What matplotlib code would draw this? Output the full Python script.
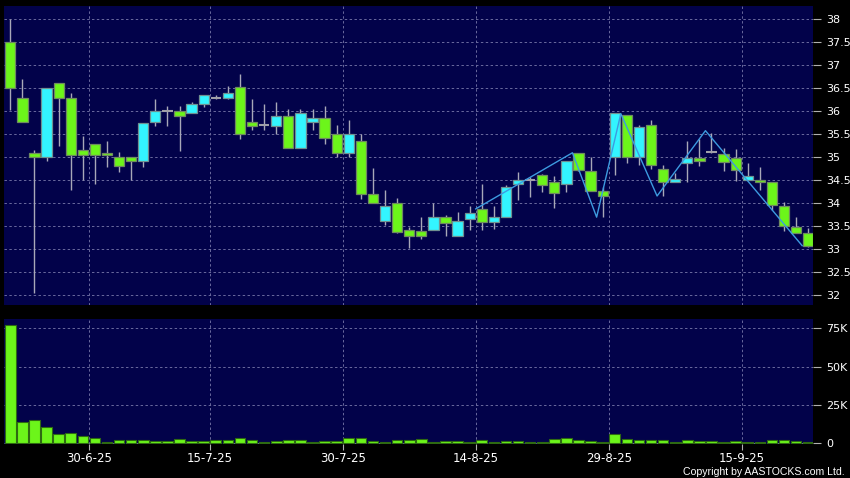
import matplotlib
matplotlib.use("Agg")
import matplotlib.pyplot as plt
import numpy as np

# daily candles (index 0 = first trading day shown)
opens = [37.50, 36.30, 35.10, 35.00, 36.61, 36.30, 35.15, 35.30, 35.10, 35.00,
         35.00, 34.91, 35.76, 36.00, 36.00, 35.96, 36.15, 36.30, 36.30, 36.54,
         35.76, 35.70, 35.69, 35.89, 35.20, 35.76, 35.85, 35.50, 35.10, 35.35,
         34.20, 33.61, 34.00, 33.41, 33.39, 33.42, 33.71, 33.30, 33.66, 33.88,
         33.59, 33.71, 34.42, 34.50, 34.61, 34.47, 34.42, 35.09, 34.71, 34.26,
         35.00, 35.93, 35.00, 35.70, 34.75, 34.46, 34.87, 34.98, 35.12, 35.07,
         34.98, 34.50, 34.51, 34.46, 33.95, 33.49, 33.35]
closes = [36.50, 35.76, 35.00, 36.50, 36.30, 35.05, 35.05, 35.05, 35.05, 34.81,
          34.91, 35.75, 36.00, 36.00, 35.89, 36.15, 36.35, 36.30, 36.39, 35.50,
          35.69, 35.70, 35.89, 35.20, 35.96, 35.85, 35.41, 35.10, 35.50, 34.20,
          34.00, 33.95, 33.37, 33.29, 33.30, 33.71, 33.57, 33.61, 33.78, 33.59,
          33.71, 34.35, 34.50, 34.50, 34.39, 34.22, 34.91, 34.72, 34.26, 34.17,
          35.96, 35.00, 35.65, 34.83, 34.46, 34.54, 34.98, 34.91, 35.12, 34.90,
          34.73, 34.60, 34.46, 33.96, 33.50, 33.35, 33.08]
highs = [38.00, 36.70, 35.16, 36.50, 36.61, 36.39, 35.46, 35.30, 35.36, 35.12,
         35.00, 35.75, 36.27, 36.12, 36.12, 36.21, 36.35, 36.36, 36.55, 36.81,
         36.27, 36.16, 36.20, 36.05, 36.05, 36.05, 36.12, 35.70, 35.81, 35.50,
         34.76, 34.29, 34.11, 33.49, 33.70, 34.00, 33.75, 33.81, 33.95, 34.42,
         33.95, 34.40, 34.68, 34.58, 34.64, 34.60, 34.92, 35.10, 35.01, 34.36,
         35.96, 35.93, 35.70, 35.81, 34.83, 34.66, 35.36, 35.40, 35.52, 35.20,
         35.19, 34.87, 34.80, 34.46, 34.04, 33.70, 33.46]
lows = [36.03, 35.76, 32.06, 34.91, 35.25, 34.30, 34.50, 34.41, 34.80, 34.69,
        34.50, 34.80, 35.69, 35.69, 35.14, 35.96, 36.10, 36.26, 36.26, 35.40,
        35.60, 35.60, 35.50, 35.20, 35.20, 35.60, 35.30, 35.00, 35.00, 34.10,
        34.00, 33.54, 33.35, 33.04, 33.22, 33.42, 33.30, 33.30, 33.42, 33.42,
        33.45, 33.71, 34.08, 34.14, 34.25, 33.89, 34.25, 34.70, 34.26, 33.70,
        34.62, 34.88, 34.83, 34.75, 34.16, 34.46, 34.47, 34.81, 35.09, 34.70,
        34.49, 34.50, 34.29, 33.86, 33.40, 33.35, 33.06]
volumes = [77000, 14000, 15300, 10500, 6400, 6600, 4600, 3300, 900, 2200,
           2400, 2400, 1500, 1500, 3100, 1500, 1500, 2000, 2400, 3700,
           2200, 1100, 1500, 2400, 2400, 1100, 1500, 1500, 3300, 3700,
           1500, 900, 2200, 2200, 3100, 1100, 1300, 1300, 1100, 2400,
           900, 1800, 1800, 900, 900, 2800, 3700, 2400, 1300, 1100,
           5900, 3100, 2400, 2200, 2200, 1100, 2200, 1500, 1300, 900,
           1800, 900, 900, 2400, 2200, 1500, 900]

# zigzag overlay: vertex candle index and price
zz_idx = [39, 47, 49, 51, 54, 58, 66]
zz_val = [33.88, 35.10, 33.70, 35.95, 34.16, 35.58, 33.08]

date_idx = [6, 16, 27, 38, 49, 60]
date_labels = ["30-6-25", "15-7-25", "30-7-25", "14-8-25", "29-8-25", "15-9-25"]

price_ticks = [32, 32.5, 33, 33.5, 34, 34.5, 35, 35.5, 36, 36.5, 37, 37.5, 38]
price_labels = ["32", "32.5", "33", "33.5", "34", "34.5", "35", "35.5", "36",
                "36.5", "37", "37.5", "38"]
vol_ticks = [0, 25000, 50000, 75000]
vol_labels = ["0", "25K", "50K", "75K"]

navy = "#02024a"
lime = "#6cf51a"
cyan = "#33f5ff"
gridc = "#6a6a9e"

fig = plt.figure(figsize=(8.5, 4.78), dpi=100, facecolor="black")
ax = fig.add_axes([0.0047, 0.3619, 0.9521, 0.6255], facecolor=navy)
ax2 = fig.add_axes([0.0047, 0.0711, 0.9521, 0.2615], facecolor=navy, sharex=ax)

x = np.arange(len(opens))
o = np.array(opens)
c = np.array(closes)

# wicks first, bodies on top
ax.vlines(x, lows, highs, color="#a8a8b8", lw=1, zorder=2)
up = c > o
down = c < o
flat = c == o
ax.bar(x[up], (c - o)[up], bottom=o[up], width=0.85, color=cyan,
       edgecolor="#6f9090", lw=0.9, zorder=3)
ax.bar(x[down], (o - c)[down], bottom=c[down], width=0.85, color=lime,
       edgecolor="#6f8a60", lw=0.9, zorder=3)
ax.hlines(c[flat], x[flat] - 0.42, x[flat] + 0.42, color="#a0a0a8", lw=1.5, zorder=3)

ax.plot(np.array(zz_idx) - 0.5, zz_val, color="#3d9be0", lw=1.0, zorder=4)

ax2.bar(x, volumes, width=0.88, color=lime, edgecolor="#2e6a12", lw=0.8, zorder=3)

ax.set_xlim(-0.52, 66.42)
ax.set_ylim(31.79, 38.29)
ax2.set_ylim(-450, 81100)

for a in (ax, ax2):
    for s in a.spines.values():
        s.set_visible(False)
    a.yaxis.tick_right()
    a.tick_params(axis="y", colors="#b0b0b0", labelcolor="white", length=6,
                  width=0.8, pad=3, labelsize=8)
    a.grid(True, color=gridc, ls=(0, (2.5, 2.5)), lw=0.7, zorder=0)
    a.set_axisbelow(True)

ax.set_yticks(price_ticks)
ax.set_yticklabels(price_labels)
ax2.set_yticks(vol_ticks)
ax2.set_yticklabels(vol_labels)

ax2.set_xticks(np.array(date_idx) + 0.5)
ax2.set_xticklabels(date_labels)
ax2.tick_params(axis="x", colors="#b0b0b0", labelcolor="white", length=4,
                width=0.8, pad=1.5, labelsize=8.5)
ax.tick_params(axis="x", bottom=False, labelbottom=False)

fig.text(0.994, 0.002, "Copyright by AASTOCKS.com Ltd.", color="white",
         ha="right", va="bottom", fontsize=7.6, family="Liberation Sans")

fig.savefig("out.png", dpi=100, facecolor="black")
